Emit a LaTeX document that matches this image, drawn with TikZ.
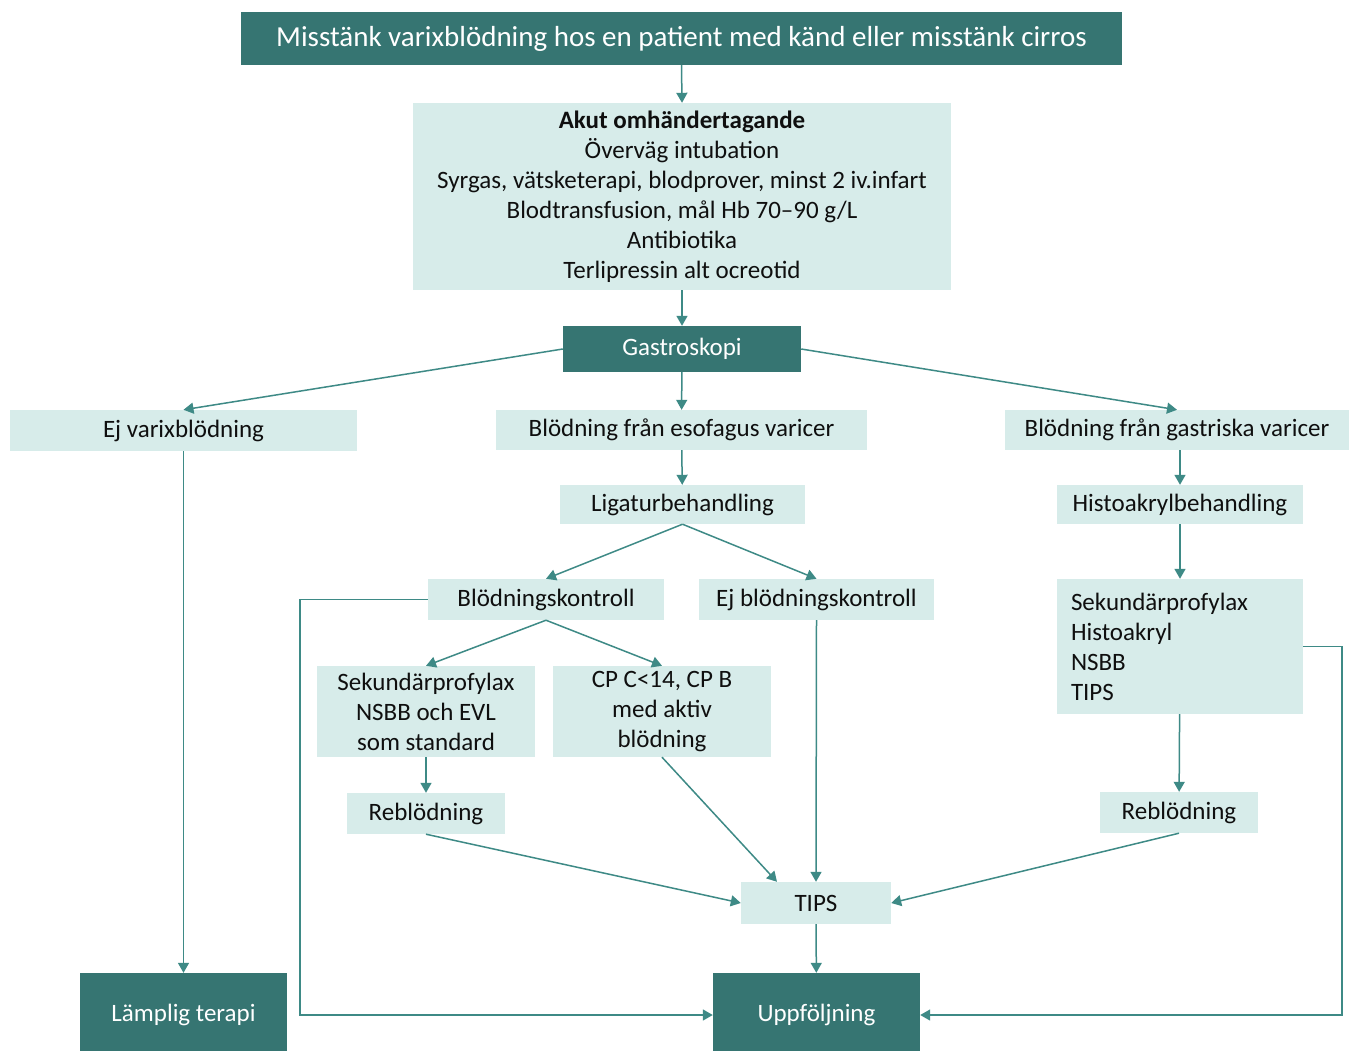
\documentclass[tikz,border=0pt]{standalone}
\usepackage{fontspec}
\setmainfont{Carlito}
\usetikzlibrary{arrows.meta}
\definecolor{dk}{RGB}{54,117,114}
\definecolor{lt}{RGB}{215,236,234}
\definecolor{lnc}{RGB}{62,138,134}
\definecolor{tx}{RGB}{15,15,15}
\begin{document}
\begin{tikzpicture}[x=1pt,y=-1pt,
 box/.style={fill=lt, inner sep=0pt, align=center, text=tx, font=\fontsize{25}{30}\selectfont},
 dbox/.style={fill=dk, inner sep=0pt, align=center, text=white, font=\fontsize{25}{30}\selectfont},
 arr/.style={draw=lnc, line width=1.5pt, -{Triangle[length=10pt,width=11pt]}},
 sz/.style 2 args={minimum width=#1pt, minimum height=#2pt}]
\clip (0,0) rectangle (1349,1050);
\fill[white] (0,0) rectangle (1349,1050);

\node[dbox, sz={881}{53}, font=\fontsize{29}{30}\selectfont] (top) at (681.5,38.5) {Misstänk varixblödning hos en patient med känd eller misstänk cirros};
\node[box, sz={538}{187}] (akut) at (682,196.5) {\textbf{Akut omhändertagande}\\Överväg intubation\\Syrgas, vätsketerapi, blodprover, minst 2 iv.infart\\Blodtransfusion, mål Hb 70–90 g/L\\Antibiotika\\Terlipressin alt ocreotid};
\node[dbox, sz={238}{46}] (gastro) at (682,349) {Gastroskopi};
\node[box, sz={347}{41}] (ejvarix) at (183.5,430.5) {Ej varixblödning};
\node[box, sz={371}{40}] (esof) at (681.5,430) {Blödning från esofagus varicer};
\node[box, sz={344}{40}] (gastr) at (1177,430) {Blödning från gastriska varicer};
\node[box, sz={245}{39}] (ligatur) at (682.5,504.5) {Ligaturbehandling};
\node[box, sz={246}{39}] (histo) at (1180,504.5) {Histoakrylbehandling};
\node[box, sz={236}{41}] (bk) at (546,599.5) {Blödningskontroll};
\node[box, sz={235}{41}] (ejbk) at (816.5,599.5) {Ej blödningskontroll};
\node[box, sz={246}{135}, align=left, text width=218pt, inner xsep=14pt] (sekR) at (1180,646.5) {Sekundärprofylax\\Histoakryl\\NSBB\\TIPS};
\node[box, sz={218}{91}] (sekL) at (426,711.5) {Sekundärprofylax\\NSBB och EVL\\som standard};
\node[box, sz={218}{91}] (cp) at (662,711.5) {CP C<14, CP B\\med aktiv\\blödning};
\node[box, sz={158}{41}] (rebL) at (426,813.5) {Reblödning};
\node[box, sz={158}{41}] (rebR) at (1179,812.5) {Reblödning};
\node[box, sz={150}{42}] (tips) at (816,903) {TIPS};
\node[dbox, sz={207}{84}] (lamp) at (183.5,1015) {Lämplig terapi};
\node[dbox, sz={207}{84}] (upp) at (816.5,1015) {Uppföljning};

\coordinate (lk) at (300,1015);
\coordinate (rk) at (1342,1015);

\draw[arr] (top.south) -- (akut.north);
\draw[arr] (akut) -- (gastro);
\draw[arr] (gastro.west) -- (ejvarix.north);
\draw[arr] (gastro) -- (esof);
\draw[arr] (gastro.east) -- (gastr.north);
\draw[arr] (ejvarix) -- (lamp);
\draw[arr] (esof) -- (ligatur);
\draw[arr] (ligatur.south) -- (bk.north);
\draw[arr] (ligatur.south) -- (ejbk.north);
\draw[arr] (bk.south) -- (sekL.north);
\draw[arr] (bk.south) -- (cp.north);
\draw[arr] (bk.west) -| (lk) -- (upp.west);
\draw[arr] (ejbk.south) -- (tips.north);
\draw[arr] (sekL) -- (rebL);
\draw[arr] (rebL.south) -- (tips.west);
\draw[arr] (cp.south) -- ([xshift=-39pt]tips.north);
\draw[arr] (rebR.south) -- (tips.east);
\draw[arr] (histo.north |- gastr.south) -- (histo.north);
\draw[arr] (histo) -- (sekR);
\draw[arr] (sekR) -- (rebR);
\draw[arr] (sekR.east) -| (rk) -- (upp.east);
\draw[arr] (tips) -- (upp);
\end{tikzpicture}
\end{document}
